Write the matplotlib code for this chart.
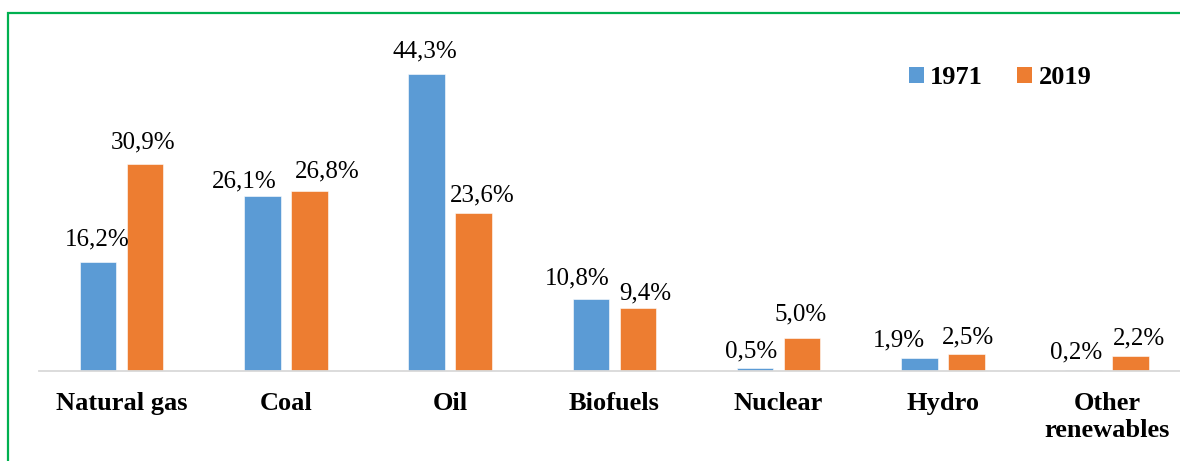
import numpy as np
import matplotlib
matplotlib.use("Agg")
import matplotlib.pyplot as plt
from matplotlib.patches import Patch
from matplotlib.lines import Line2D

# data
categories = ["Natural gas", "Coal", "Oil", "Biofuels", "Nuclear", "Hydro", "Other\nrenewables"]
share_1971 = [16.2, 26.1, 44.3, 10.8, 0.5, 1.9, 0.2]
share_2019 = [30.9, 26.8, 23.6, 9.4, 5.0, 2.5, 2.2]

# label nudges (pixels), the source chart had hand-placed labels
dx_1971 = [-1, -18, -1.5, -14, -4.5, -21, -7.5]
dy_1971 = [17, 9, 17, 14, 10, 12, 11]
dx_2019 = [-1.5, 18, 8.5, 7.5, -1.5, 2, 8]
dy_2019 = [16, 14, 11, 9, 17, 11, 12]

BLUE = "#5B9BD5"
ORANGE = "#ED7D31"
W, H = 1180, 461

plt.rcParams["font.family"] = ["Liberation Serif", "DejaVu Serif"]

fig = plt.figure(figsize=(W / 100, H / 100), dpi=100)
ax = fig.add_axes([39.35 / W, 90 / H, 1150 / W, 335 / H])

x = np.arange(len(categories))
bw = 0.223
off = 0.143
ax.bar(x - off, share_1971, bw, color=BLUE, edgecolor="white", linewidth=0.4, label="1971")
ax.bar(x + off, share_2019, bw, color=ORANGE, edgecolor="white", linewidth=0.4, label="2019")

def fmt(v):
    return f"{v:.1f}".replace(".", ",") + "%"

for i in range(len(categories)):
    ax.annotate(fmt(share_1971[i]), xy=(x[i] - off, share_1971[i]),
                xytext=(dx_1971[i], dy_1971[i]), textcoords="offset pixels",
                ha="center", va="baseline", fontsize=18)
    ax.annotate(fmt(share_2019[i]), xy=(x[i] + off, share_2019[i]),
                xytext=(dx_2019[i], dy_2019[i]), textcoords="offset pixels",
                ha="center", va="baseline", fontsize=18)

ax.set_xlim(-0.5, len(categories) - 0.5)
ax.set_ylim(0, 50)
ax.set_xticks(x)
ax.set_xticklabels(categories, fontsize=19, fontweight="bold", linespacing=1.25)
ax.tick_params(axis="x", length=0, pad=15)
ax.set_yticks([])
for s in ["top", "right", "left"]:
    ax.spines[s].set_visible(False)
ax.spines["bottom"].set_color("#D9D9D9")
ax.spines["bottom"].set_linewidth(1.3)
ax.set_facecolor("none")

handles = [Patch(facecolor=BLUE, label="1971"), Patch(facecolor=ORANGE, label="2019")]
fig.legend(handles=handles, loc="upper left", bbox_to_anchor=(909 / W, 1 - 66 / H),
           ncol=2, frameon=False, prop={"size": 19, "weight": "bold"},
           handlelength=0.55, handleheight=0.55, handletextpad=0.25,
           columnspacing=1.3, borderaxespad=0, borderpad=0)

# green frame: only the left and top sides are inside the picture
fx, fy = 8 / W, 1 - 13 / H
fig.add_artist(Line2D([fx, fx, 1.0], [0, fy, fy], transform=fig.transFigure,
                      color="#00B050", linewidth=1.6, solid_joinstyle="miter"))

fig.savefig("out.png", dpi=100)
